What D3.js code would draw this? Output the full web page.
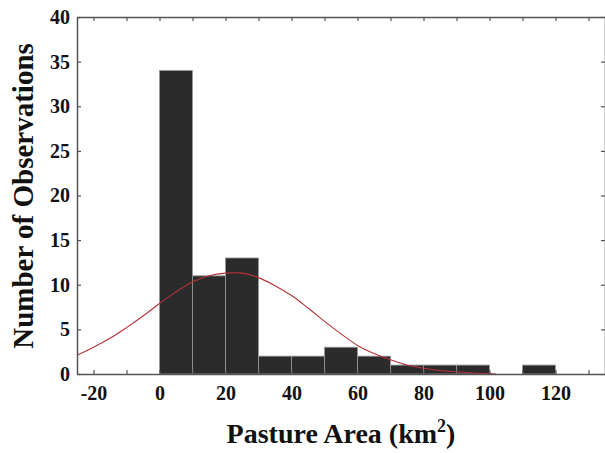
<!DOCTYPE html>
<html>
<head>
<meta charset="utf-8">
<script src="https://cdn.jsdelivr.net/npm/d3@7"></script>
<style>
  body { margin: 0; background: #fff; }
  text { font-family: "Liberation Serif", "Times New Roman", serif; font-weight: bold; fill: #111; }
</style>
</head>
<body>
<div id="graphic"></div>
<script>
// Histogram bins (left edge, km2) and their counts
var binStarts = [0, 10, 20, 30, 40, 50, 60, 70, 80, 90, 100, 110];
var binCounts = [34, 11, 13, 2, 2, 3, 2, 1, 1, 1, 0, 1];
var binWidth = 10;

// Fitted normal curve, read as (area, expected count) pairs
var curveX = [-25, -20, -15, -10, -5, 0, 5, 10, 15, 20, 25, 30, 35, 40, 45, 50, 55, 60, 65, 70, 75, 80, 85, 90, 95, 100, 102];
var curveY = [2.1, 3.0, 4.0, 5.2, 6.5, 7.9, 9.2, 10.3, 11.0, 11.3, 11.3, 10.8, 9.9, 8.8, 7.4, 5.9, 4.5, 3.2, 2.3, 1.6, 1.0, 0.65, 0.4, 0.25, 0.12, 0.06, 0];

// Axis ticks and labels
var xTicks = [-20, -10, 0, 10, 20, 30, 40, 50, 60, 70, 80, 90, 100, 110, 120, 130];
var xLabels = [-20, 0, 20, 40, 60, 80, 100, 120];
var yTicks = [0, 5, 10, 15, 20, 25, 30, 35, 40];

var svgWidth = 605;
var svgHeight = 453;
var margin = { top: 17, right: 0, bottom: 79, left: 77 };
var width = svgWidth - margin.left - margin.right;
var height = svgHeight - margin.top - margin.bottom;

var svg = d3.select("#graphic")
    .append("svg")
    .attr("width", svgWidth)
    .attr("height", svgHeight);

var chart = svg.append("g")
    .attr("transform", "translate(" + margin.left + "," + margin.top + ")");

var x = d3.scaleLinear().domain([-25, 135]).range([0, width]);
var y = d3.scaleLinear().domain([0, 40]).range([height, 0]);

// bars
chart.selectAll("rect.bar")
    .data(binStarts)
    .enter()
    .filter(function(d, i) { return binCounts[i] > 0; })
    .append("rect")
    .attr("class", "bar")
    .attr("x", function(d) { return x(d); })
    .attr("width", function(d) { return x(d + binWidth) - x(d); })
    .attr("y", function(d) { return y(binCounts[binStarts.indexOf(d)]); })
    .attr("height", function(d) { return height - y(binCounts[binStarts.indexOf(d)]); })
    .attr("fill", "#2b2b2b")
    .attr("stroke", "#9a9a9a")
    .attr("stroke-width", 0.8);

// normal fit
var line = d3.line()
    .x(function(d, i) { return x(curveX[i]); })
    .y(function(d) { return y(d); })
    .curve(d3.curveCatmullRom.alpha(0.5));

chart.append("path")
    .datum(curveY)
    .attr("d", line)
    .attr("fill", "none")
    .attr("stroke", "#b8323a")
    .attr("stroke-width", 1.1);

// axes, ticks point inward on all four sides
var xAxis = d3.axisBottom(x)
    .tickValues(xTicks)
    .tickSizeInner(-4)
    .tickSizeOuter(0)
    .tickPadding(12)
    .tickFormat(function(d) { return xLabels.indexOf(d) >= 0 ? d : ""; });

var yAxis = d3.axisLeft(y)
    .tickValues(yTicks)
    .tickSizeInner(-4)
    .tickSizeOuter(0)
    .tickPadding(7);

var gx = chart.append("g")
    .attr("transform", "translate(0," + height + ")")
    .call(xAxis);

var gy = chart.append("g").call(yAxis);

var gTop = chart.append("g")
    .call(d3.axisTop(x).tickValues(xTicks).tickSizeInner(-4).tickSizeOuter(0).tickFormat(""));

var gRight = chart.append("g")
    .attr("transform", "translate(" + width + ",0)")
    .call(d3.axisRight(y).tickValues(yTicks).tickSizeInner(-4).tickSizeOuter(0).tickFormat(""));

[gx, gy, gTop, gRight].forEach(function(g) {
    g.selectAll(".domain").attr("stroke", "#555").attr("stroke-width", 1.5);
    g.selectAll(".tick line").attr("stroke", "#555").attr("stroke-width", 1.2);
    g.selectAll("text").style("font-size", "20px").attr("fill", "#111");
});

// axis titles
svg.append("text")
    .attr("transform", "translate(33,196) rotate(-90)")
    .style("text-anchor", "middle")
    .style("font-size", "29px")
    .text("Number of Observations");

var xTitle = svg.append("text")
    .attr("x", 341)
    .attr("y", 443)
    .style("text-anchor", "middle")
    .style("font-size", "28px");

xTitle.append("tspan").text("Pasture Area (km");
xTitle.append("tspan").attr("dy", -11).style("font-size", "18px").text("2");
xTitle.append("tspan").attr("dy", 11).text(")");
</script>
</body>
</html>
